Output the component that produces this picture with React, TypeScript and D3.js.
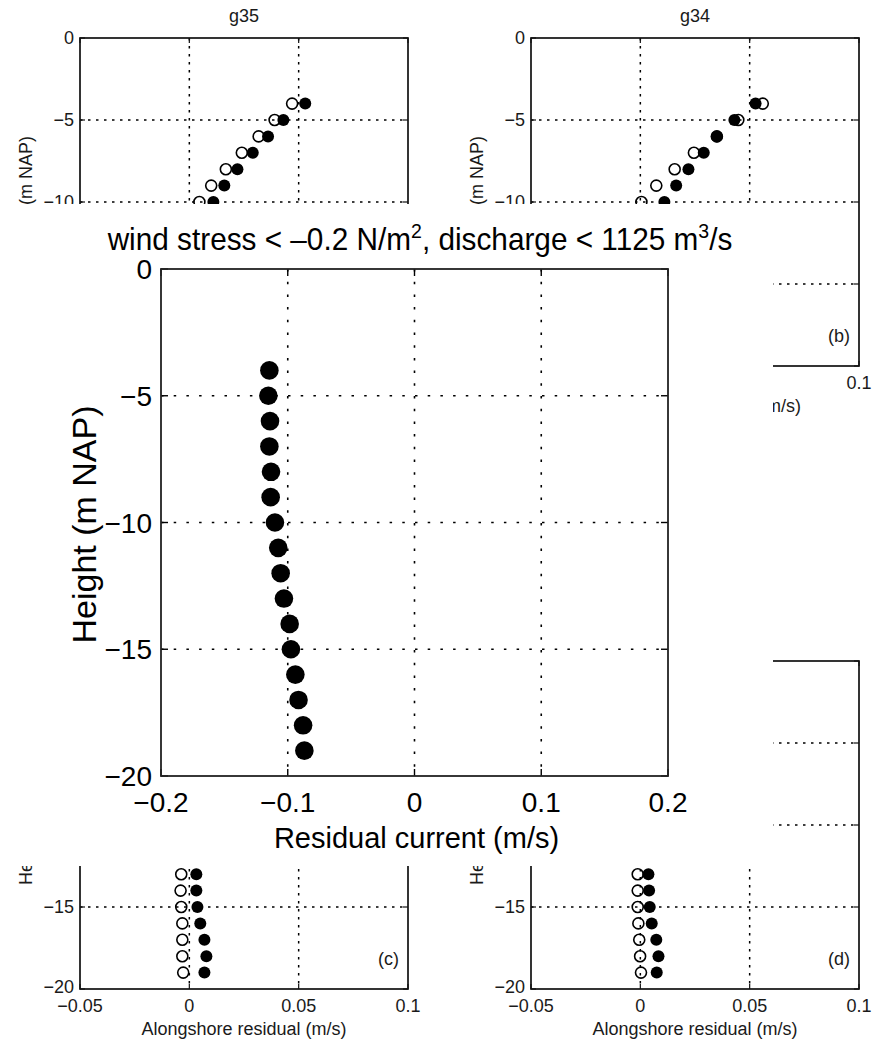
import React from 'react';
import * as d3 from 'd3';

// ---------- data ----------
const topHeights = [-4, -5, -6, -7, -8, -9, -10];
const bottomHeights = [-13, -14, -15, -16, -17, -18, -19];

const panelAOpen = [0.047, 0.039, 0.0317, 0.024, 0.0167, 0.010, 0.0046];
const panelAFilled = [0.053, 0.043, 0.036, 0.029, 0.022, 0.016, 0.011];
const panelBOpen = [0.056, 0.0448, 0.035, 0.0245, 0.0157, 0.0073, 0.0005];
const panelBFilled = [0.0527, 0.043, 0.035, 0.029, 0.022, 0.0164, 0.011];
const panelCOpen = [-0.0037, -0.004, -0.0037, -0.0032, -0.0032, -0.0032, -0.0028];
const panelCFilled = [0.0032, 0.0032, 0.0037, 0.005, 0.0069, 0.0078, 0.0069];
const panelDOpen = [-0.0012, -0.0012, -0.0012, -0.0009, -0.0005, -0.0001, 0.0003];
const panelDFilled = [0.0037, 0.004, 0.0043, 0.0052, 0.0073, 0.0083, 0.0075];

const bgXTicks = [-0.05, 0, 0.05, 0.1];
const bgXTickLabels = ['\u22120.05', '0', '0.05', '0.1'];
const bgXGrid = [0, 0.05];
const bgYTicks = [0, -5, -10, -15, -20];
const bgYTickLabels = ['0', '\u22125', '\u221210', '\u221215', '\u221220'];
const bgYGrid = [-5, -10, -15];

const mainHeights = [-4, -5, -6, -7, -8, -9, -10, -11, -12, -13, -14, -15, -16, -17, -18, -19];
const mainValues = [-0.1145, -0.1153, -0.114, -0.1145, -0.1132, -0.1135, -0.1101, -0.1075,
  -0.1056, -0.103, -0.0985, -0.0975, -0.094, -0.0915, -0.0879, -0.0869];
const mainXTicks = [-0.2, -0.1, 0, 0.1, 0.2];
const mainXTickLabels = ['\u22120.2', '\u22120.1', '0', '0.1', '0.2'];
const mainXGrid = [-0.1, 0, 0.1];
const mainYTicks = [0, -5, -10, -15, -20];
const mainYTickLabels = ['0', '\u22125', '\u221210', '\u221215', '\u221220'];
const mainYGrid = [-5, -10, -15];

const FONT = '"Liberation Sans", Arial, Helvetica, sans-serif';

// white inset that covers the underlying figure
const COVER = { x0: 0, y0: 204, x1: 773, y1: 866 };

// true when an (approximate) text box lies entirely under the inset
function covered(x0: number, y0: number, x1: number, y1: number) {
  return x0 >= COVER.x0 && x1 <= COVER.x1 && y0 >= COVER.y0 && y1 <= COVER.y1;
}
function textW(s: string, fs: number) {
  return s.length * fs * 0.56;
}

type PanelProps = {
  left: number; top: number; title?: string; tag: string; xlabel: string;
  heights: number[]; open: number[]; filled: number[];
};

function Panel({ left, top, title, tag, xlabel, heights, open, filled }: PanelProps) {
  const w = 328, h = 328;
  const fs = 18;
  const x = d3.scaleLinear().domain([-0.05, 0.1]).range([left, left + w]);
  const y = d3.scaleLinear().domain([0, -20]).range([top, top + h]);
  const tl = 5;
  const ylabCx = left - 48;
  const ylabCy = top + h / 2 - 3;
  const ylab = 'Height (m NAP)';
  const ylabLen = textW(ylab, fs) * 0.95;
  return (
    <g fontFamily={FONT} fill="#1a1a1a">
      {bgXGrid.map((v) => (
        <line key={'gx' + v} x1={x(v)} x2={x(v)} y1={top} y2={top + h}
          stroke="#000" strokeWidth={1.5} strokeDasharray="2.5,5.5" />
      ))}
      {bgYGrid.map((v) => (
        <line key={'gy' + v} x1={left} x2={left + w} y1={y(v)} y2={y(v)}
          stroke="#000" strokeWidth={1.5} strokeDasharray="2.5,5.5" />
      ))}
      {bgXTicks.map((v) => (
        <g key={'tx' + v}>
          <line x1={x(v)} x2={x(v)} y1={top + h} y2={top + h - tl} stroke="#111" strokeWidth={1.2} />
          <line x1={x(v)} x2={x(v)} y1={top} y2={top + tl} stroke="#111" strokeWidth={1.2} />
        </g>
      ))}
      {bgYTicks.map((v) => (
        <g key={'ty' + v}>
          <line x1={left} x2={left + tl} y1={y(v)} y2={y(v)} stroke="#111" strokeWidth={1.2} />
          <line x1={left + w} x2={left + w - tl} y1={y(v)} y2={y(v)} stroke="#111" strokeWidth={1.2} />
        </g>
      ))}
      <rect x={left} y={top} width={w} height={h} fill="none" stroke="#111" strokeWidth={1.7} />
      {heights.map((hv, i) => (
        <circle key={'o' + i} cx={x(open[i])} cy={y(hv)} r={5.5} fill="none" stroke="#000" strokeWidth={1.6} />
      ))}
      {heights.map((hv, i) => (
        <circle key={'f' + i} cx={x(filled[i])} cy={y(hv)} r={6} fill="#000" />
      ))}
      {bgYTicks.map((v, i) => {
        const s = bgYTickLabels[i];
        const xr = left - 6;
        if (covered(xr - textW(s, fs), y(v) - 9, xr, y(v) + 9)) return null;
        return <text key={'ly' + v} x={xr} y={y(v)} dy={v === -20 ? '0.2em' : '0.35em'} textAnchor="end" fontSize={fs}>{s}</text>;
      })}
      {bgXTicks.map((v, i) => {
        const s = bgXTickLabels[i];
        const yb = top + h + 23;
        const hw = textW(s, fs) / 2;
        if (covered(x(v) - hw, yb - 14, x(v) + hw, yb + 4)) return null;
        return <text key={'lx' + v} x={x(v)} y={yb} textAnchor="middle" fontSize={fs}>{s}</text>;
      })}
      {title && <text x={left + w / 2} y={top - 16} textAnchor="middle" fontSize={fs}>{title}</text>}
      {!covered(left + w - 9 - 26, top + h - 38, left + w - 9, top + h - 20) &&
        <text x={left + w - 9} y={top + h - 24} textAnchor="end" fontSize={fs}>{tag}</text>}
      {!covered(left + w / 2 - textW(xlabel, fs) / 2 * 0.9, top + h + 32, left + w / 2 + textW(xlabel, fs) / 2 * 0.9, top + h + 50) &&
        <text x={left + w / 2} y={top + h + 46} textAnchor="middle" fontSize={fs}>{xlabel}</text>}
      {!covered(ylabCx - 14, ylabCy - ylabLen / 2, ylabCx + 4, ylabCy + ylabLen / 2) &&
        <text transform={`translate(${ylabCx},${ylabCy}) rotate(-90)`} textAnchor="middle" fontSize={fs}>{ylab}</text>}
    </g>
  );
}

function MainChart() {
  const L = 161, T = 269, W = 507, H = 507;
  const x = d3.scaleLinear().domain([-0.2, 0.2]).range([L, L + W]);
  const y = d3.scaleLinear().domain([0, -20]).range([T, T + H]);
  const tl = 7;
  return (
    <g fontFamily={FONT} fill="#000">
      <rect x={COVER.x0} y={COVER.y0} width={COVER.x1 - COVER.x0} height={COVER.y1 - COVER.y0} fill="#fff" />
      {mainXGrid.map((v) => (
        <line key={'gx' + v} x1={x(v)} x2={x(v)} y1={T} y2={T + H}
          stroke="#000" strokeWidth={1.6} strokeDasharray="2.5,10.2" />
      ))}
      {mainYGrid.map((v) => (
        <line key={'gy' + v} x1={L} x2={L + W} y1={y(v)} y2={y(v)}
          stroke="#000" strokeWidth={1.6} strokeDasharray="2.5,10.2" />
      ))}
      {mainXTicks.map((v) => (
        <g key={'tx' + v}>
          <line x1={x(v)} x2={x(v)} y1={T + H} y2={T + H - tl} stroke="#000" strokeWidth={1.4} />
          <line x1={x(v)} x2={x(v)} y1={T} y2={T + tl} stroke="#000" strokeWidth={1.4} />
        </g>
      ))}
      {mainYTicks.map((v) => (
        <g key={'ty' + v}>
          <line x1={L} x2={L + tl} y1={y(v)} y2={y(v)} stroke="#000" strokeWidth={1.4} />
          <line x1={L + W} x2={L + W - tl} y1={y(v)} y2={y(v)} stroke="#000" strokeWidth={1.4} />
        </g>
      ))}
      <rect x={L} y={T} width={W} height={H} fill="none" stroke="#222" strokeWidth={1.8} />
      {mainHeights.map((hv, i) => (
        <circle key={'m' + i} cx={x(mainValues[i])} cy={y(hv)} r={9.3} fill="#000" />
      ))}
      {mainYTicks.map((v, i) => (
        <text key={'ly' + v} x={L - 9} y={y(v)} dy="0.36em" textAnchor="end" fontSize={28}>{mainYTickLabels[i]}</text>
      ))}
      {mainXTicks.map((v, i) => (
        <text key={'lx' + v} x={x(v)} y={T + H + 36} textAnchor="middle" fontSize={28}>{mainXTickLabels[i]}</text>
      ))}
      <text x={L + W / 2 + 2} y={848} textAnchor="middle" fontSize={29}>Residual current (m/s)</text>
      <text transform={`translate(96,${T + H / 2 + 2}) rotate(-90)`} textAnchor="middle" fontSize={34}>Height (m NAP)</text>
      <g transform="translate(420,250) scale(0.93,1)">
        <text x={0} y={0} textAnchor="middle" fontSize={32}>
          wind stress &lt; {'\u20130.2'} N/m
          <tspan dy={-12} fontSize={21}>2</tspan>
          <tspan dy={12}>, discharge &lt; 1125 m</tspan>
          <tspan dy={-12} fontSize={21}>3</tspan>
          <tspan dy={12}>/s</tspan>
        </text>
      </g>
    </g>
  );
}

export default function App() {
  return (
    <svg width={885} height={1040} style={{ position: 'absolute', left: 0, top: 0, background: '#fff' }}>
      <rect x={0} y={0} width={885} height={1040} fill="#fff" />
      <Panel left={80} top={38} title="g35" tag="(a)" xlabel="Cross-shore residual (m/s)"
        heights={topHeights} open={panelAOpen} filled={panelAFilled} />
      <Panel left={531} top={38} title="g34" tag="(b)" xlabel="Cross-shore residual (m/s)"
        heights={topHeights} open={panelBOpen} filled={panelBFilled} />
      <Panel left={80} top={661} tag="(c)" xlabel="Alongshore residual (m/s)"
        heights={bottomHeights} open={panelCOpen} filled={panelCFilled} />
      <Panel left={531} top={661} tag="(d)" xlabel="Alongshore residual (m/s)"
        heights={bottomHeights} open={panelDOpen} filled={panelDFilled} />
      <MainChart />
    </svg>
  );
}
